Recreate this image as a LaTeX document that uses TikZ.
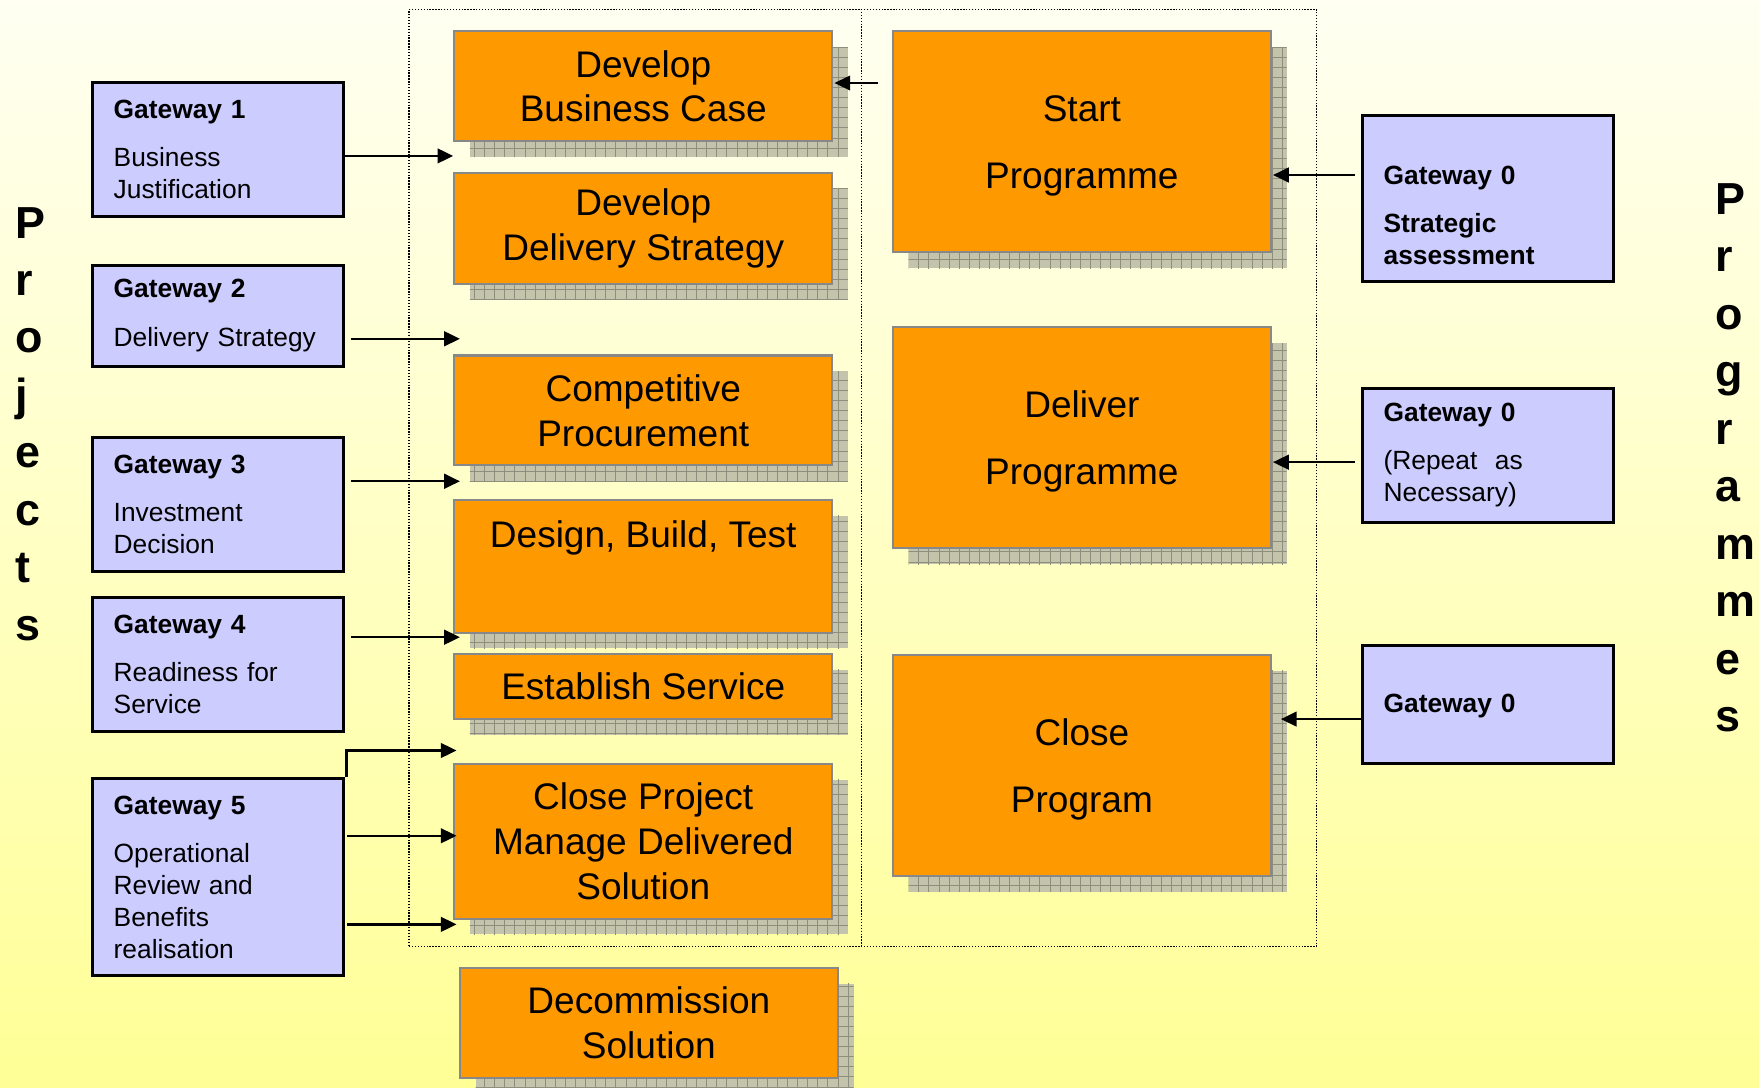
\documentclass[tikz,border=0pt]{standalone}
\usepackage{fontspec}
\setmainfont{Liberation Sans}
\usetikzlibrary{arrows.meta,shadows,patterns,calc}

\pgfdeclarepatternformonly{shgrid}{\pgfpoint{-1pt}{-1pt}}{\pgfpoint{10pt}{10pt}}{\pgfpoint{9pt}{9pt}}{%
  \pgfsetlinewidth{0.8pt}%
  \pgfpathmoveto{\pgfpoint{0pt}{0pt}}\pgfpathlineto{\pgfpoint{9.1pt}{0pt}}%
  \pgfpathmoveto{\pgfpoint{0pt}{0pt}}\pgfpathlineto{\pgfpoint{0pt}{9.1pt}}%
  \pgfusepath{stroke}}

\definecolor{bgtop}{RGB}{255,255,242}
\definecolor{bgbot}{RGB}{255,255,150}
\definecolor{orangebox}{RGB}{255,153,0}
\definecolor{orangeedge}{RGB}{136,136,136}
\definecolor{bluebox}{RGB}{204,204,255}
\definecolor{shfill}{RGB}{196,196,172}
\definecolor{shline}{RGB}{142,142,124}

\tikzset{
  obox/.style={rectangle, draw=orangeedge, line width=1.8pt, fill=orangebox,
    minimum width=337pt, anchor=north west, align=center, inner sep=0pt,
    font=\fontsize{33}{40}\selectfont,
    general shadow={shadow xshift=14pt, shadow yshift=-14pt, fill=shfill},
    general shadow={shadow xshift=14pt, shadow yshift=-14pt, pattern=shgrid, pattern color=shline}},
  gbox/.style={rectangle, draw=black, line width=2.7pt, fill=bluebox,
    anchor=north west, align=left, text width=186pt, inner xsep=19pt, inner ysep=0pt,
    font=\fontsize{23.5}{28.5}\selectfont},
  arr/.style={line width=2.2pt, -{Triangle[length=14pt,width=13pt]}},
  sideword/.style={anchor=north west, align=left, inner sep=0pt,
    font=\fontsize{40}{51.2}\selectfont\bfseries},
  frameline/.style={line width=1.2pt, dash pattern=on 1.2pt off 1.4pt}
}

\begin{document}
\begin{tikzpicture}[x=1pt,y=-1pt]
\useasboundingbox (0,0) rectangle (1568,969);
\shade[top color=bgtop, bottom color=bgbot] (0,0) rectangle (1568,969);

% dotted frame
\node[draw, frameline, rectangle, minimum width=809pt, minimum height=835pt, anchor=north west, inner sep=0pt] (frame) at (364,8) {};
\coordinate (divtop) at (768,8);
\coordinate (divbot) at (768,843);
\draw[frameline] (divtop) -- (divbot);

% side words
\node[sideword] (projects) at (14,184.5) {P\\r\\o\\j\\e\\c\\t\\s};
\node[sideword] (programmes) at (1529,163.5) {P\\r\\o\\g\\r\\a\\m\\m\\e\\s};

% left column orange boxes
\node[obox, minimum height=98pt] (dbc) at (404,27) {Develop\\Business Case};
\node[obox, minimum height=99pt] (dds) at (404,153) {Develop\\Delivery Strategy};
\node[obox, minimum height=98pt] (cp) at (404,316) {Competitive\\Procurement};
\node[obox, minimum height=118pt] (dbt) at (404,445) {Design, Build, Test\\[18pt]~};
\node[obox, minimum height=58pt] (es) at (404,582) {Establish Service};
\node[obox, minimum height=138pt] (cpm) at (404,680) {Close Project\\Manage Delivered\\Solution};
\node[obox, minimum height=98pt] (dec) at (409,862) {Decommission\\Solution};

% right column orange boxes
\node[obox, minimum height=197pt] (sp) at (795,27) {\rule{0pt}{30pt}Start\\[20pt]Programme};
\node[obox, minimum height=197pt] (dp) at (795,291) {\rule{0pt}{30pt}Deliver\\[20pt]Programme};
\node[obox, minimum height=197pt] (clp) at (795,583) {\rule{0pt}{31pt}Close\\[20pt]Program};

% gateways (projects)
\node[gbox, minimum height=120pt] (g1) at (81,72) {\textbf{Gateway 1}\\[14.5pt]Business\\Justification};
\node[gbox, minimum height=90pt] (g2) at (81,235) {\textbf{Gateway 2}\\[14.5pt]Delivery Strategy};
\node[gbox, minimum height=119pt] (g3) at (81,389) {\textbf{Gateway 3}\\[14.5pt]Investment\\Decision};
\node[gbox, minimum height=120pt] (g4) at (81,531) {\textbf{Gateway 4}\\[14.5pt]Readiness for\\Service};
\node[gbox, minimum height=175pt] (g5) at (81,693) {\textbf{Gateway 5}\\[14.5pt]Operational\\Review and\\Benefits\\realisation};

% gateways (programmes)
\node[gbox, minimum height=148pt] (g0a) at (1213,102) {\bfseries\rule{0pt}{46pt}Gateway 0\\[14.5pt]Strategic\\assessment};
\node[gbox, minimum height=119pt] (g0b) at (1213,345) {\textbf{Gateway 0}\\[14.5pt](Repeat\ \ as\\Necessary)};
\node[gbox, minimum height=105pt] (g0c) at (1213,574) {\rule{0pt}{19pt}\textbf{Gateway 0}};

% arrows projects
\draw[arr] (g1.east |- 0,139) -- (dbc.west |- 0,139);
\draw[arr] ($(g2.east |- 0,302)+(5,0)$) -- ($(cp.west |- 0,302)+(6,0)$);
\draw[arr] ($(g3.east |- 0,429)+(5,0)$) -- ($(dbt.west |- 0,429)+(6,0)$);
\draw[arr] ($(g4.east |- 0,568)+(5,0)$) -- ($(es.west |- 0,568)+(6,0)$);
\draw[arr] ($(g5.north east)+(1,0)$) |- ($(cpm.west |- 0,669)+(3,0)$);
\draw[arr] ($(g5.east |- 0,745)+(2,0)$) -- ($(cpm.west |- 0,745)+(3,0)$);
\draw[arr] ($(g5.east |- 0,824)+(2,0)$) -- ($(cpm.west |- 0,824)+(3,0)$);

% arrows programmes
\draw[arr] ($(g0a.west |- 0,156)+(-5,0)$) -- ($(sp.east |- 0,156)+(1,0)$);
\draw[arr] ($(g0b.west |- 0,412)+(-5,0)$) -- ($(dp.east |- 0,412)+(1,0)$);
\draw[arr] (g0c.west |- 0,641) -- ($(clp.east |- 0,641)+(8,0)$);
\coordinate (smallstart) at (783,74);
\draw[arr, line width=1.6pt] (smallstart) -- ($(dbc.east |- smallstart)+(1,0)$);
\end{tikzpicture}
\end{document}
